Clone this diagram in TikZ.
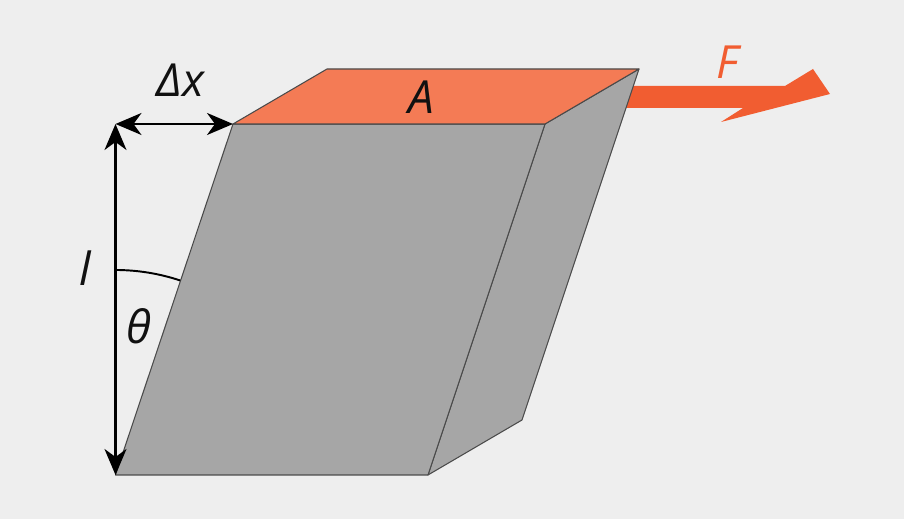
\documentclass[tikz,border=0pt]{standalone}
\usepackage{fontspec}
\setmainfont{Open Sans}
\usetikzlibrary{calc,arrows.meta}
\definecolor{bggray}{HTML}{EEEEEE}
\definecolor{boxgray}{HTML}{A6A6A6}
\definecolor{topface}{HTML}{F47B55}
\definecolor{forcered}{HTML}{F15D31}
\definecolor{edgegray}{HTML}{4A4A4A}
\definecolor{inkblack}{HTML}{111111}
\tikzset{
  face/.style={fill=boxgray,draw=edgegray,line width=0.6pt,line join=round},
  dimline/.style={draw=black,line width=1.25pt,{Stealth[length=0.52cm,width=0.44cm,inset=0.16cm]}-{Stealth[length=0.52cm,width=0.44cm,inset=0.16cm]}},
  lbl/.style={font=\fontsize{26}{26}\selectfont\itshape,text=inkblack,inner sep=0pt}
}
\begin{document}
\begin{tikzpicture}[x=0.02cm,y=-0.02cm]
                      \fill[bggray] (0,0) rectangle (904,519);
                      \useasboundingbox (0,0) rectangle (904,519);
                      \coordinate (ftl) at (233,124);
                      \coordinate (ftr) at (545,124);
                      \coordinate (fbr) at (428,475);
                      \coordinate (fbl) at (115.5,475);
                      \coordinate (btl) at (327,69);
                      \coordinate (btr) at (639,69);
                      \coordinate (bbr) at (522,420);
                      \coordinate (corner) at (115.5,124);
                      \coordinate (archigh) at (115.5,270);
                      \fill[forcered] (625,86) -- (785,86) -- (813,69) -- (830,94) -- (721,122) -- (743,108) -- (625,108) -- cycle;
                      \path[face] (ftr) -- (btr) -- (bbr) -- (fbr) -- cycle;
                      \path[face] (ftl) -- (ftr) -- (fbr) -- (fbl) -- cycle;
                      \path[face,fill=topface] (ftl) -- (btl) -- (btr) -- (ftr) -- cycle;
                      \draw[dimline] (corner) -- (ftl);
                      \draw[dimline] (corner) -- (fbl);
                      \draw[line width=1.1pt,black] (archigh) arc[start angle=90,end angle=71.6,radius=4.1cm];
                      \node[lbl](dx)at(180.5,80){Δx};
                      \node[lbl](len)at(85,268){l};
                      \node[lbl](theta)at(139,326){θ};
                      \node[lbl](area)at(421,97){A};
                      \node[lbl,text=forcered](force)at(727,62){F};
\end{tikzpicture}
\end{document}
